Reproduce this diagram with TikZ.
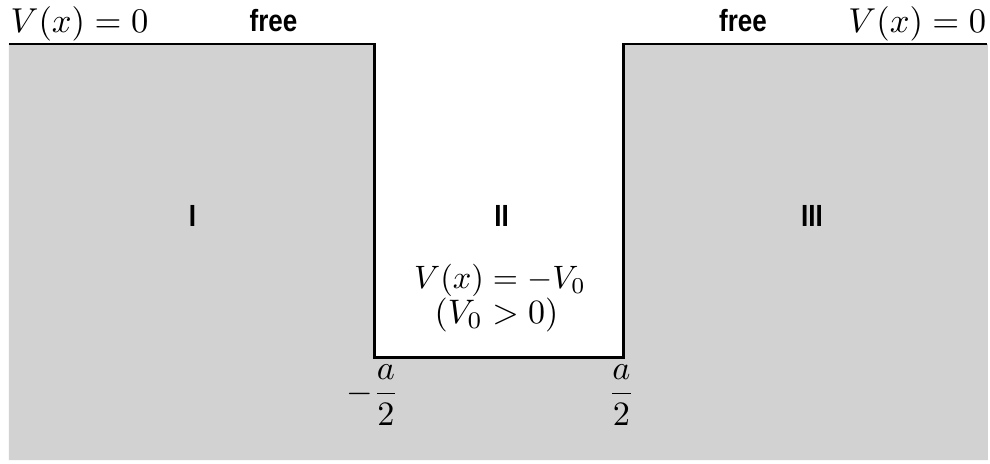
\documentclass[tikz,border=0pt]{standalone}
\usepackage{amsmath}
\usepackage{fontspec}
\newfontfamily\labelsf[FakeStretch=0.85]{Liberation Sans}
\usetikzlibrary{positioning}
\definecolor{wellgray}{RGB}{210,210,210}

\begin{document}
\begin{tikzpicture}[x=0.2778pt, y=-0.2778pt,
        wall/.style={line width=0.8pt, line join=miter},
        region/.style={font=\labelsf\bfseries\fontsize{8.5}{10}\selectfont, anchor=base, inner sep=0pt},
        potential/.style={anchor=base, inner sep=0pt, scale=0.96, transform shape},
        inwell/.style={anchor=base, inner sep=0pt, scale=0.9, transform shape},
        edge label/.style={scale=0.95, transform shape}]

    \useasboundingbox (0,0) rectangle (990,464);

    % --- Corners of the well ---
    \coordinate (tl) at (9,44);
    \coordinate (lt) at (374.5,44);
    \coordinate (lb) at (374.5,357.5);
    \coordinate (rb) at (623.5,357.5);
    \coordinate (rt) at (623.5,44);
    \coordinate (tr) at (988,44);

    % --- Shaded regions ---
    \fill[wellgray] (tl) -- (lt) -- (lb) -- (rb) -- (rt) -- (tr)
        -- (988,460) -- (9,460) -- cycle;

    % --- Potential ---
    \draw[wall] (tl) -- (lt) -- (lb) -- (rb) -- (rt) -- (987,44);

    % --- Labels above ---
    \node[potential, anchor=base west] (Vl) at (10,32.5) {$V(x)=0$};
    \node[potential, anchor=base east] (Vr) at (987,32.5) {$V(x)=0$};
    \node[region] (fl) at (273.5,31) {free};
    \node[region] (fr) at (743,31) {free};

    % --- Regions ---
    \node[region] (I)   at (192.5,226) {I};
    \node[region] (II)  at (501.5,226) {II};
    \node[region] (III) at (812,226) {III};

    % --- Inside the well ---
    \node[inwell] (Vin) at (500,288.5) {$V(x)=-V_0$};
    \node[inwell, scale=1.05] (cond) at (496.5,323) {$(V_0>0)$};

    % --- Edges of the well ---
    \node[edge label] (ml) at (372.5,395) {$-\dfrac{a}{2}$};
    \node[edge label] (mr) at (621.5,395) {$\dfrac{a}{2}$};

\end{tikzpicture}
\end{document}
